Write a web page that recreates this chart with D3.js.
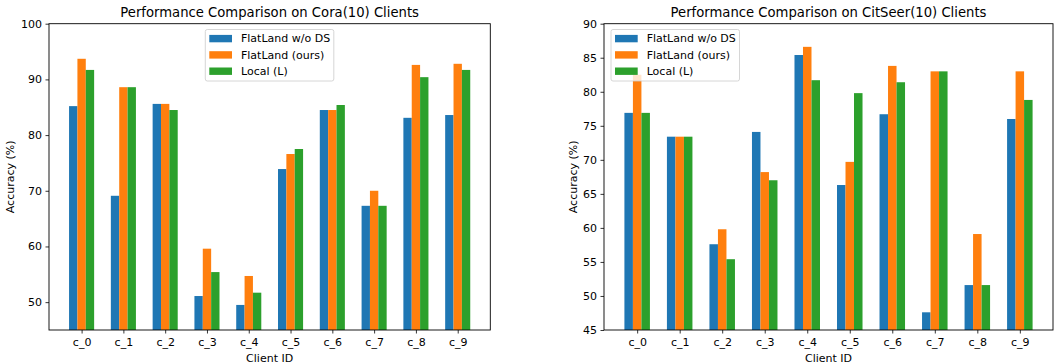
<!DOCTYPE html>
<html>
<head>
<meta charset="utf-8">
<script src="https://cdn.jsdelivr.net/npm/d3@7"></script>
<style>
  html, body { margin: 0; padding: 0; background: #fff; }
  svg { display: block; }
  text { font-family: "DejaVu Sans", sans-serif; fill: #000; }
</style>
</head>
<body>
<div id="chart"></div>
<script>
const categories = ["c_0", "c_1", "c_2", "c_3", "c_4", "c_5", "c_6", "c_7", "c_8", "c_9"];
const seriesNames = ["FlatLand w/o DS", "FlatLand (ours)", "Local (L)"];
const seriesColors = ["#1f77b4", "#ff7f0e", "#2ca02c"];

const coraWithoutDS = [85.2, 69.1, 85.6, 51.1, 49.5, 73.9, 84.5, 67.3, 83.1, 83.6];
const coraOurs      = [93.7, 88.6, 85.6, 59.6, 54.7, 76.6, 84.5, 70.0, 92.6, 92.8];
const coraLocal     = [91.7, 88.6, 84.5, 55.4, 51.7, 77.5, 85.4, 67.3, 90.4, 91.7];

const citeWithoutDS = [76.9, 73.4, 57.6, 74.1, 85.4, 66.3, 76.7, 47.6, 51.6, 76.0];
const citeOurs      = [82.5, 73.4, 59.8, 68.2, 86.6, 69.7, 83.8, 83.0, 59.1, 83.0];
const citeLocal     = [76.9, 73.4, 55.4, 67.0, 81.7, 79.8, 81.4, 83.0, 51.6, 78.8];

const coraTicks = [50, 60, 70, 80, 90, 100];
const citeTicks = [45, 50, 55, 60, 65, 70, 75, 80, 85, 90];

const W = 1055, H = 364;
const svg = d3.select("#chart").append("svg").attr("width", W).attr("height", H);

function panel(opts) {
  const { left, right, top, bottom, yDomain, yTicks, series, title, legendX, ylabelX } = opts;
  const g = svg.append("g");
  const x = d3.scaleLinear().domain([-0.78, 9.78]).range([left, right]);
  const y = d3.scaleLinear().domain(yDomain).range([bottom, top]);
  const bw = 0.2;

  series.forEach((vals, si) => {
    g.append("g").selectAll("rect").data(vals).join("rect")
      .attr("x", (d, i) => x(i + (si - 1) * bw - bw / 2))
      .attr("width", (d, i) => x(i + bw / 2) - x(i - bw / 2))
      .attr("y", d => y(d))
      .attr("height", d => y(yDomain[0]) - y(d))
      .attr("fill", seriesColors[si]);
  });

  const xAxis = d3.axisBottom(x).tickValues(d3.range(categories.length))
    .tickFormat(i => categories[i]).tickSize(3.5).tickPadding(4.5);
  const gx = g.append("g").attr("transform", `translate(0,${bottom})`).call(xAxis);
  gx.select(".domain").remove();
  gx.selectAll("text").style("font-size", "11px").style("font-family", "DejaVu Sans");
  gx.selectAll("line").attr("stroke", "#000").attr("stroke-width", 0.8);

  const yAxis = d3.axisLeft(y).tickValues(yTicks).tickSize(3.5).tickPadding(3.5);
  const gy = g.append("g").attr("transform", `translate(${left},0)`).call(yAxis);
  gy.select(".domain").remove();
  gy.selectAll("text").style("font-size", "11px").style("font-family", "DejaVu Sans");
  gy.selectAll("line").attr("stroke", "#000").attr("stroke-width", 0.8);

  g.append("rect").attr("x", left).attr("y", top)
    .attr("width", right - left).attr("height", bottom - top)
    .attr("fill", "none").attr("stroke", "#000").attr("stroke-width", 0.9);

  g.append("text").attr("x", (left + right) / 2).attr("y", 17.3)
    .attr("text-anchor", "middle").style("font-size", "13.2px").text(title);

  g.append("text").attr("x", (left + right) / 2).attr("y", 361.5)
    .attr("text-anchor", "middle").style("font-size", "11px").text("Client ID");

  g.append("text").attr("transform", `translate(${ylabelX},${(top + bottom) / 2}) rotate(-90)`)
    .attr("text-anchor", "middle").attr("dy", "0.35em").style("font-size", "11px").text("Accuracy (%)");

  const lg = g.append("g").attr("transform", `translate(${legendX},29.5)`);
  lg.append("rect").attr("width", 128.5).attr("height", 51.5).attr("rx", 2)
    .attr("fill", "#fff").attr("fill-opacity", 0.8).attr("stroke", "#cccccc").attr("stroke-width", 0.8);
  seriesNames.forEach((name, i) => {
    const cy = 9 + i * 16.3;
    lg.append("rect").attr("x", 4).attr("y", cy - 3.6).attr("width", 22.7).attr("height", 7.4)
      .attr("fill", seriesColors[i]);
    lg.append("text").attr("x", 35.7).attr("y", cy).attr("dy", "0.35em")
      .style("font-size", "11px").text(name);
  });
}

panel({
  left: 49, right: 490.3, top: 23.7, bottom: 330,
  yDomain: [45, 100], yTicks: coraTicks,
  series: [coraWithoutDS, coraOurs, coraLocal],
  title: "Performance Comparison on Cora(10) Clients",
  legendX: 205.3, ylabelX: 10
});

panel({
  left: 604, right: 1053, top: 23.7, bottom: 330,
  yDomain: [45, 90], yTicks: citeTicks,
  series: [citeWithoutDS, citeOurs, citeLocal],
  title: "Performance Comparison on CitSeer(10) Clients",
  legendX: 611, ylabelX: 572.7
});
</script>
</body>
</html>
